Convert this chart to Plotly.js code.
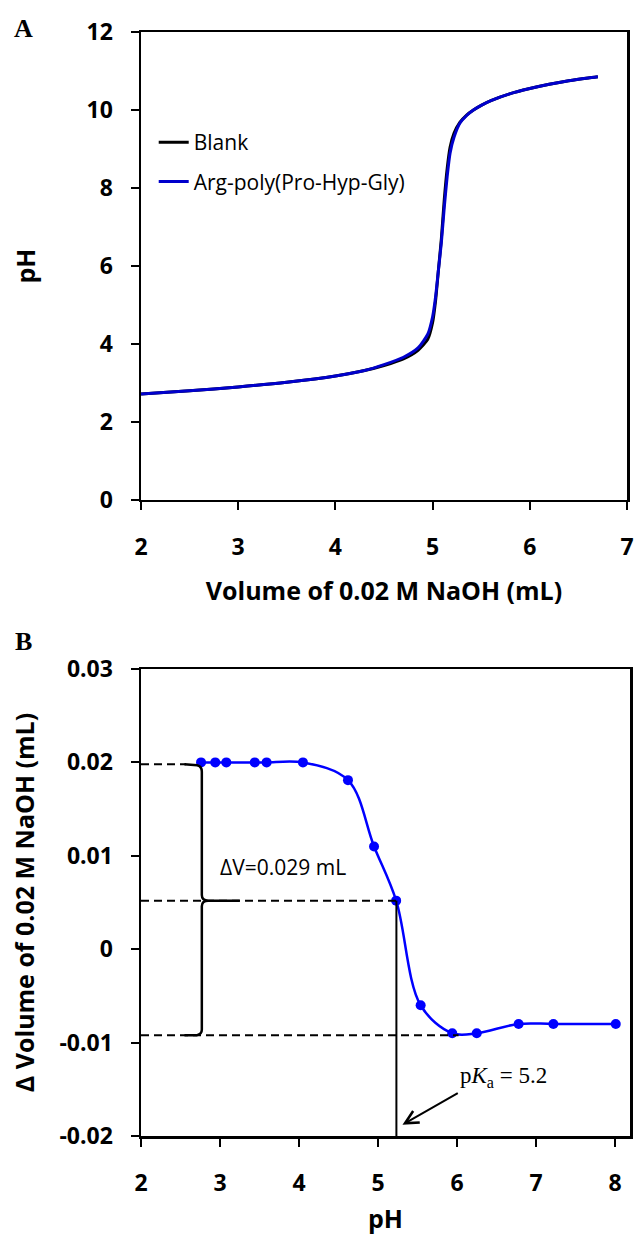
<!DOCTYPE html>
<html><head><meta charset="utf-8">
<script src="https://cdn.plot.ly/plotly-3.0.1.min.js"></script>
<style>html,body{margin:0;padding:0;background:#fff}#chart{width:638px;height:1235px}</style>
</head><body><div id="chart"></div>
<script>
// Panel A: titration curves
const volume  = [2.0, 2.5, 3.0, 3.5, 4.0, 4.3, 4.5, 4.7, 4.85, 4.95, 5.0, 5.03, 5.06, 5.09, 5.12, 5.15, 5.18, 5.22, 5.28, 5.35, 5.42, 5.5, 5.6, 5.8, 6.0, 6.2, 6.4, 6.6, 6.7];
const pHBlank = [2.72, 2.80, 2.90, 3.02, 3.18, 3.32, 3.45, 3.62, 3.84, 4.12, 4.55, 5.1, 5.9, 6.7, 7.7, 8.5, 9.05, 9.4, 9.68, 9.87, 10.0, 10.12, 10.24, 10.42, 10.55, 10.66, 10.75, 10.82, 10.85];
const pHArg   = [2.72, 2.80, 2.90, 3.02, 3.18, 3.32, 3.47, 3.66, 3.90, 4.25, 4.7, 5.2, 5.9, 6.6, 7.5, 8.3, 8.9, 9.3, 9.66, 9.86, 10.0, 10.12, 10.24, 10.42, 10.55, 10.66, 10.75, 10.82, 10.85];
const seriesNames = ['Blank', 'Arg-poly(Pro-Hyp-Gly)'];

// Panel B: difference curve
const pHPoints = [2.76, 2.94, 3.08, 3.44, 3.59, 4.05, 4.62, 4.95, 5.23, 5.54, 5.94, 6.25, 6.78, 7.22, 8.01];
const deltaV   = [0.020, 0.020, 0.020, 0.020, 0.020, 0.020, 0.0181, 0.011, 0.0052, -0.006, -0.009, -0.009, -0.008, -0.008, -0.008];

// Guide levels in panel B
const levelTop = 0.0198, levelMid = 0.0052, levelLow = -0.0092;
const pKa = 5.233;
const braceX = 2.77, braceTip = 3.25;

const ticksA_x = [2, 3, 4, 5, 6, 7];
const ticksA_y = [0, 2, 4, 6, 8, 10, 12];
const ticksB_x = [2, 3, 4, 5, 6, 7, 8];
const ticksB_y = [-0.02, -0.01, 0, 0.01, 0.02, 0.03];
const ticksB_ytext = ['-0.02', '-0.01', '0', '0.01', '0.02', '0.03'];

const SANS = '"Open Sans", "Noto Sans", sans-serif';
const SERIF = '"Liberation Serif", "DejaVu Serif", serif';
const tickFont = {family: SANS, size: 23, color: '#000', weight: 700};
const titleFont = {family: SANS, size: 25, color: '#000', weight: 700};

const traces = [
  {x: volume, y: pHBlank, type: 'scatter', mode: 'lines', name: seriesNames[0], legendgroup: 'a',
   line: {color: '#000000', width: 3, shape: 'spline', smoothing: 0.6}, xaxis: 'x', yaxis: 'y'},
  {x: volume, y: pHArg, type: 'scatter', mode: 'lines', name: seriesNames[1], legendgroup: 'b',
   line: {color: '#0000cc', width: 3, shape: 'spline', smoothing: 0.6}, xaxis: 'x', yaxis: 'y'},
  {x: pHPoints, y: deltaV, type: 'scatter', mode: 'lines+markers', showlegend: false,
   line: {color: '#0000ff', width: 2.5, shape: 'spline', smoothing: 1},
   marker: {color: '#0000ff', size: 10}, xaxis: 'x2', yaxis: 'y2'}
];

const axisCommon = {showgrid: false, zeroline: false, showline: true, linecolor: '#000', linewidth: 2.5,
  mirror: true, ticks: 'outside', ticklen: 8, tickwidth: 2, tickcolor: '#000', tickfont: tickFont};

const bracePath =
  `M ${braceX - 0.22},${levelTop} L ${braceX - 0.06},${levelTop - 0.0001} ` +
  `Q ${braceX},${levelTop - 0.0002} ${braceX},${levelTop - 0.0008} ` +
  `L ${braceX},${levelMid + 0.0006} Q ${braceX},${levelMid} ${braceX + 0.08},${levelMid} ` +
  `L ${braceTip},${levelMid} L ${braceX + 0.08},${levelMid} ` +
  `Q ${braceX},${levelMid} ${braceX},${levelMid - 0.0006} ` +
  `L ${braceX},${levelLow + 0.0006} Q ${braceX},${levelLow + 0.0001} ${braceX - 0.06},${levelLow} ` +
  `L ${braceX - 0.22},${levelLow}`;

const layout = {
  width: 638, height: 1235,
  margin: {l: 141, r: 8, t: 32, b: 99},
  paper_bgcolor: '#fff', plot_bgcolor: '#fff',
  showlegend: true,
  legend: {x: 0.026, y: 0.9185, xanchor: 'left', yanchor: 'top', bgcolor: 'rgba(0,0,0,0)',
    font: {family: SANS, size: 21, color: '#000'}, traceorder: 'grouped', tracegroupgap: 9},
  xaxis: Object.assign({}, axisCommon, {domain: [0, 0.9939], anchor: 'y', range: [2, 7], tickvals: ticksA_x,
    ticklabelstandoff: 17, title: {text: 'Volume of 0.02 M NaOH (mL)', font: titleFont, standoff: 22}}),
  yaxis: Object.assign({}, axisCommon, {domain: [0.5761, 1], anchor: 'x', range: [0, 12], tickvals: ticksA_y,
    ticklabelstandoff: 13, title: {text: 'pH', font: titleFont, standoff: 44}}),
  xaxis2: Object.assign({}, axisCommon, {domain: [0, 1], anchor: 'y2', range: [2, 8.19], tickvals: ticksB_x,
    ticklabelstandoff: 17, title: {text: 'pH', font: titleFont, standoff: 16}}),
  yaxis2: Object.assign({}, axisCommon, {domain: [0, 0.4230], anchor: 'x2', range: [-0.02, 0.03],
    tickvals: ticksB_y, ticktext: ticksB_ytext, ticklabelstandoff: 13,
    title: {text: 'Δ Volume of 0.02 M NaOH (mL)', font: titleFont, standoff: 18}}),
  shapes: [
    {type: 'line', xref: 'x2', yref: 'y2', x0: 2, x1: braceX - 0.2, y0: levelTop, y1: levelTop,
     line: {color: '#000', width: 2, dash: '8px,5px'}},
    {type: 'line', xref: 'x2', yref: 'y2', x0: 2, x1: pKa, y0: levelMid, y1: levelMid,
     line: {color: '#000', width: 2, dash: '8px,5px'}},
    {type: 'line', xref: 'x2', yref: 'y2', x0: 2, x1: 6.02, y0: levelLow, y1: levelLow,
     line: {color: '#000', width: 2, dash: '8px,5px'}},
    {type: 'line', xref: 'x2', yref: 'y2', x0: pKa, x1: pKa, y0: levelMid, y1: -0.02,
     line: {color: '#000', width: 2}},
    {type: 'path', xref: 'x2', yref: 'y2', path: bracePath, line: {color: '#000', width: 2.5}}
  ],
  annotations: [
    {text: 'A', xref: 'paper', yref: 'paper', x: -0.241, y: 1.003, xanchor: 'center', yanchor: 'middle',
     showarrow: false, font: {family: SERIF, size: 26, color: '#000', weight: 700}},
    {text: 'B', xref: 'paper', yref: 'paper', x: -0.241, y: 0.4475, xanchor: 'center', yanchor: 'middle',
     showarrow: false, font: {family: SERIF, size: 26, color: '#000', weight: 700}},
    {text: 'ΔV=0.029 mL', xref: 'x2', yref: 'y2', x: 2.97, y: 0.0088, xanchor: 'left', yanchor: 'middle',
     showarrow: false, font: {family: SANS, size: 21, color: '#000'}},
    {text: 'p<i>K</i><sub>a</sub> = 5.2', xref: 'x2', yref: 'y2', x: 5.31, y: -0.0188,
     axref: 'x2', ayref: 'y2', ax: 6.01, ay: -0.0154, xanchor: 'left', yanchor: 'bottom',
     showarrow: true, arrowhead: 5, arrowsize: 1.3, arrowwidth: 2, arrowcolor: '#000', standoff: 0,
     font: {family: SERIF, size: 23, color: '#000'}}
  ]
};

Plotly.newPlot('chart', traces, layout, {staticPlot: true, displayModeBar: false});
</script>
</body></html>
